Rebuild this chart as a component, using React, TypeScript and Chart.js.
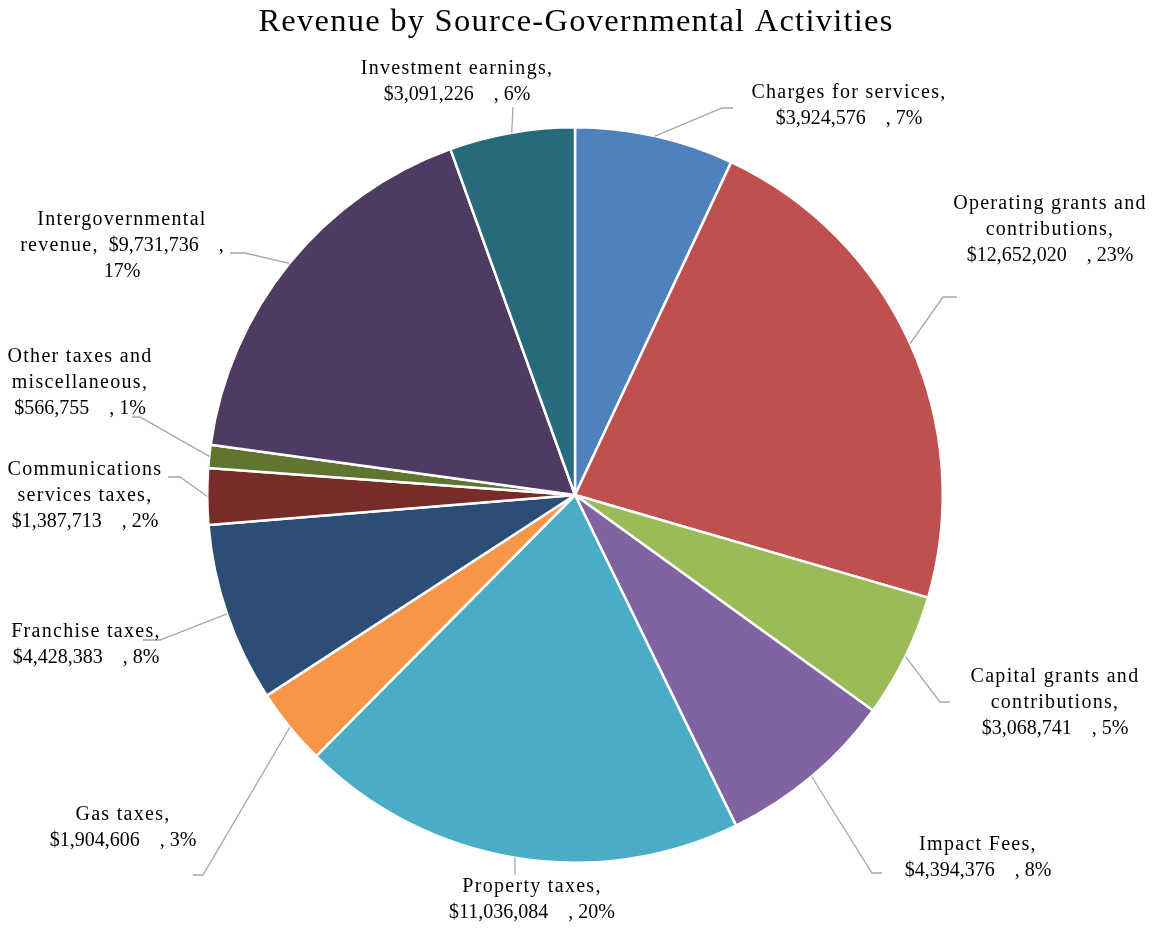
import React, { useEffect, useRef } from "react";
import { Chart, registerables } from "chart.js";

Chart.register(...registerables);

const categories = [
  "Charges for services",
  "Operating grants and contributions",
  "Capital grants and contributions",
  "Impact Fees",
  "Property taxes",
  "Gas taxes",
  "Franchise taxes",
  "Communications services taxes",
  "Other taxes and miscellaneous",
  "Intergovernmental revenue",
  "Investment earnings",
];

const revenueValues = [
  3924576, 12652020, 3068741, 4394376, 11036084, 1904606, 4428383, 1387713,
  566755, 9731736, 3091226,
];

// how each category name wraps in its label
const nameLines = [
  ["Charges for services,"],
  ["Operating grants and", "contributions,"],
  ["Capital grants and", "contributions,"],
  ["Impact Fees,"],
  ["Property taxes,"],
  ["Gas taxes,"],
  ["Franchise taxes,"],
  ["Communications", "services taxes,"],
  ["Other taxes and", "miscellaneous,"],
  ["Intergovernmental", "revenue,"],
  ["Investment earnings,"],
];
// true: value joins the last name line, percentage on its own line
const valueOnNameLine = [false, false, false, false, false, false, false, false, false, true, false];

const sliceColors = [
  "#4F81BD", "#C0504D", "#9BBB59", "#8064A2", "#4BACC6", "#F79646",
  "#2C4D75", "#772C2A", "#5F7530", "#4D3B62", "#276A7C",
];

// label placement relative to pie centre (px): label centre, leader elbow, leader end
const labelLayout = [
  { lx: 274, ly: -389, ex: 147, ey: -387, hx: 158 },
  { lx: 475, ly: -265, ex: 368, ey: -198, hx: 382 },
  { lx: 480, ly: 208, ex: 365, ey: 207, hx: 375 },
  { lx: 403, ly: 363, ex: 297, ey: 378, hx: 307 },
  { lx: -43, ly: 405, ex: -60, ey: 380, hx: -60 },
  { lx: -452, ly: 333, ex: -372, ey: 380, hx: -382 },
  { lx: -489, ly: 150, ex: -415, ey: 145, hx: -432 },
  { lx: -490, ly: 1, ex: -395, ey: -18, hx: -407 },
  { lx: -495, ly: -112, ex: -435, ey: -78, hx: -443 },
  { lx: -453, ly: -249, ex: -330, ey: -242, hx: -345 },
  { lx: -118, ly: -413, ex: -62, ey: -388, hx: -62 },
];

const titleText = "Revenue by Source-Governmental Activities";
const FONT = '"Liberation Serif", "Times New Roman", serif';
const NAME_SPACING = 1.3;
const GAP = "    ";

type Seg = { text: string; spaced: boolean };

function buildLines(i: number, total: number): Seg[][] {
  const v = revenueValues[i];
  const valueStr = "$" + v.toLocaleString("en-US");
  const pctStr = Math.round((v / total) * 100) + "%";
  const lines: Seg[][] = nameLines[i].map((t) => [{ text: t, spaced: true }]);
  if (valueOnNameLine[i]) {
    lines[lines.length - 1].push({ text: "  " + valueStr + GAP + ",", spaced: false });
    lines.push([{ text: pctStr, spaced: false }]);
  } else {
    lines.push([{ text: valueStr + GAP + ", " + pctStr, spaced: false }]);
  }
  return lines;
}

const labelPlugin = {
  id: "pieLabels",
  afterDraw(chart: any) {
    const ctx = chart.ctx;
    const meta = chart.getDatasetMeta(0);
    const total = revenueValues.reduce((a, b) => a + b, 0);
    ctx.save();
    // title
    ctx.fillStyle = "#000";
    ctx.font = `32.5px ${FONT}`;
    (ctx as any).letterSpacing = "1.25px";
    ctx.textAlign = "center";
    ctx.textBaseline = "alphabetic";
    ctx.fillText(titleText, chart.width / 2, 31);

    meta.data.forEach((arc: any, i: number) => {
      const p = arc.getProps(["x", "y", "startAngle", "endAngle", "outerRadius"], true);
      const mid = (p.startAngle + p.endAngle) / 2;
      const sx = p.x + p.outerRadius * Math.cos(mid);
      const sy = p.y + p.outerRadius * Math.sin(mid);
      const L = labelLayout[i];
      ctx.strokeStyle = "#A6A6A6";
      ctx.lineWidth = 1.3;
      ctx.beginPath();
      ctx.moveTo(sx, sy);
      ctx.lineTo(p.x + L.ex, p.y + L.ey);
      ctx.lineTo(p.x + L.hx, p.y + L.ey);
      ctx.stroke();

      const lines = buildLines(i, total);
      ctx.fillStyle = "#000";
      ctx.font = `20px ${FONT}`;
      ctx.textAlign = "left";
      ctx.textBaseline = "middle";
      const lh = 26;
      const top = p.y + L.ly - ((lines.length - 1) * lh) / 2;
      lines.forEach((segs, k) => {
        const widths = segs.map((s) => {
          (ctx as any).letterSpacing = s.spaced ? `${NAME_SPACING}px` : "0px";
          return ctx.measureText(s.text).width;
        });
        const totalW = widths.reduce((a, b) => a + b, 0);
        let x = p.x + L.lx - totalW / 2;
        segs.forEach((s, j) => {
          (ctx as any).letterSpacing = s.spaced ? `${NAME_SPACING}px` : "0px";
          ctx.fillText(s.text, x, top + k * lh);
          x += widths[j];
        });
      });
    });
    ctx.restore();
  },
};

export default function App() {
  const ref = useRef<HTMLCanvasElement>(null);
  useEffect(() => {
    if (!ref.current) return;
    const chart = new Chart(ref.current, {
      type: "pie",
      data: {
        labels: categories,
        datasets: [
          {
            data: revenueValues,
            backgroundColor: sliceColors,
            borderColor: "#FFFFFF",
            borderWidth: 2.5,
          },
        ],
      },
      options: {
        responsive: false,
        animation: false,
        layout: { padding: { left: 206, right: 208, top: 126, bottom: 65 } },
        plugins: {
          legend: { display: false },
          tooltip: { enabled: false },
          title: { display: false },
        },
      },
      plugins: [labelPlugin],
    });
    return () => chart.destroy();
  }, []);
  return (
    <div style={{ position: "fixed", left: 0, top: 0, width: 1152, height: 929, background: "#fff" }}>
      <canvas ref={ref} width={1152} height={929} style={{ width: 1152, height: 929 }} />
    </div>
  );
}
